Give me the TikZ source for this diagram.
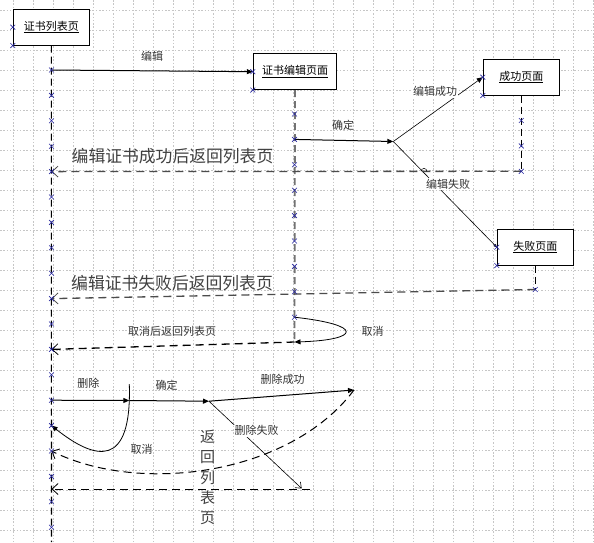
\documentclass[tikz,border=0pt]{standalone}
\usepackage{fontspec}
\setmainfont{Noto Sans CJK SC}
\usetikzlibrary{arrows.meta}

\definecolor{markblue}{RGB}{40,40,160}
\newcommand{\smallcn}{\fontsize{11}{13}\selectfont}
\newcommand{\bigcn}{\fontsize{16.8}{20}\selectfont}
\newcommand{\vertcn}{\fontsize{15}{20.3}\selectfont}
\newcommand{\xm}[1]{\draw[markblue,line width=.6pt] (#1) +(-2.4,-2.4) -- +(2.4,2.4) +(-2.4,2.4) -- +(2.4,-2.4);}

\begin{document}
\begin{tikzpicture}[x=1pt,y=-1pt,
	gridline/.style={gray!45,line width=.45pt,dash pattern=on 1.5pt off 1.8pt},
	pagebox/.style={draw,fill=white,line width=1pt,minimum width=76pt,minimum height=35.7pt,inner sep=0pt,font=\smallcn},
	lifeline/.style={line width=1.1pt,dash pattern=on 7pt off 4pt},
	msg/.style={line width=1pt,-{Triangle[length=6pt,width=5pt]}},
	thinmsg/.style={line width=.6pt,-{Triangle[length=6pt,width=5pt]}},
	back/.style={black!70,line width=1.3pt,dash pattern=on 8pt off 5pt,-{Straight Barb[length=6pt,width=11pt,line width=.8pt]}},
	lbl/.style={font=\smallcn,text=black!80,inner sep=1pt},
	biglbl/.style={font=\bigcn,text=black!75,inner sep=1pt}]

	\fill[white] (0,0) rectangle (594,542);
	\useasboundingbox (0,0) rectangle (594,542);
	\foreach \gx in {13.3,33.3,...,593.3}
		\draw[gridline] (\gx,0) -- (\gx,542);
	\foreach \gy in {10,30,...,530}
		\draw[gridline] (0,\gy) -- (594,\gy);

	\node[pagebox] (list) at (51.3,27.2) {\underline{证书列表页}};
	\node[pagebox,minimum width=83.4pt] (edit) at (295,71.7) {\underline{证书编辑页面}};
	\node[pagebox] (ok) at (521.3,77.2) {\underline{成功页面}};
	\node[pagebox] (fail) at (535.3,247.2) {\underline{失败页面}};

	\foreach \i in {0,...,18}
		\coordinate (a\i) at (51.5,{70+25.4*\i});
	\foreach \i in {0,...,8}
		\coordinate (b\i) at (294.5,{114+25.4*\i});
	\foreach \i in {0,...,2}
		\coordinate (c\i) at (521.3,{120.5+25.4*\i});
	\coordinate (d0) at (535.3,289.5);
	\coordinate (l1end) at (51.5,542);
	\coordinate (l2end) at (294.5,342);
	\coordinate (fork) at (393.3,141.5);
	\coordinate (del) at (129.3,400.5);
	\coordinate (delTop) at (129.3,384);
	\coordinate (fork2) at (209,401.2);
	\coordinate (succ2) at (354,390);
	\coordinate (fail2) at (301.7,488.5);
	\coordinate (fail2end) at (310,489);
	\coordinate (r2) at (51.5,489);

	\draw[lifeline] (list.south) -- (l1end);
	\draw[lifeline,black!55,line width=1.8pt] (edit.south) -- (l2end);
	\draw[lifeline] (ok.south) -- (c2);
	\draw[lifeline] (fail.south) -- (d0);

	\draw[msg] (a0) -- (edit.west);
	\draw[msg] (b1) -- (fork);
	\draw[thinmsg] (fork) -- (ok.west);
	\draw[line width=.6pt,-{Triangle[length=3pt,width=3pt]}] (fork) -- (fail.west);
	\draw[back] (c2) -- (a4);
	\draw[line width=.5pt] (421,171.4) arc[start angle=180,end angle=360,radius=3];
	\draw[back] (d0) -- (a9);
	\draw[thinmsg,line width=.8pt] (b8) .. controls (365,325) and (360,340) .. (l2end);
	\draw[back,black] (l2end) -- (a11);

	\draw[msg] (a13) -- (del);
	\draw[thinmsg,line width=.8pt] (delTop) .. controls (132,470) and (95,460) .. (a14);
	\draw[msg] (del) -- (fork2);
	\draw[msg] (fork2) -- (succ2);
	\draw[line width=.6pt,-{Straight Barb[length=5pt,width=8pt]}] (fork2) -- (fail2);
	\draw[back,black,line width=1pt] (succ2) .. controls (290,475) and (140,495) .. (a15);
	\draw[back,black,line width=1pt] (fail2end) -- (r2);

	\node[lbl] (editLbl) at (152,56) {编辑};
	\node[lbl] (okLbl) at (343,125) {确定};
	\node[lbl,fill=white] (editOkLbl) at (435,91.7) {编辑成功};
	\node[lbl,fill=white] (editFailLbl) at (448,184) {编辑失败};
	\node[biglbl] (backOkLbl) at (172.5,156) {编辑证书成功后返回列表页};
	\node[biglbl] (backFailLbl) at (172,283) {编辑证书失败后返回列表页};
	\node[lbl] (cancelLbl) at (372.7,331.7) {取消};
	\node[lbl] (backCancelLbl) at (172,331.3) {取消后返回列表页};
	\node[lbl] (delLbl) at (88.3,383.3) {删除};
	\node[lbl] (delOkLbl) at (166.7,385) {确定};
	\node[lbl] (delSuccLbl) at (282.7,379.3) {删除成功};
	\node[lbl,fill=white] (delFailLbl) at (256.7,430.7) {删除失败};
	\node[lbl] (delCancelLbl) at (141.7,449.3) {取消};
	\node[font=\vertcn,text=black!75,align=center,inner sep=0pt] (backVert) at (207.5,477.5) {返\\回\\列\\表\\页};

	\foreach \i in {0,...,18}
		{\xm{a\i}}
	\foreach \i in {0,...,8}
		{\xm{b\i}}
	\foreach \i in {0,...,2}
		{\xm{c\i}}
	\xm{d0}
	\xm{list.west}
	\xm{list.south west}
	\xm{edit.west}
	\xm{edit.south west}
	\xm{ok.west}
	\xm{ok.south west}
	\xm{fail.west}
	\xm{fail.south west}

\end{tikzpicture}
\end{document}
